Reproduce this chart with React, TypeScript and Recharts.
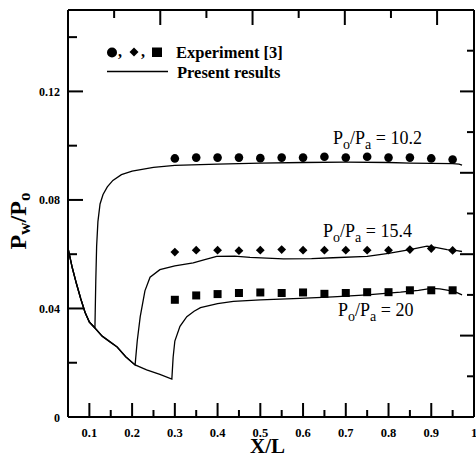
import React from 'react';
import { ComposedChart, Line, Scatter, XAxis, YAxis } from 'recharts';

// experiment [3] stations
const expX = [0.3, 0.35, 0.4, 0.45, 0.5, 0.55, 0.6, 0.65, 0.7, 0.75, 0.8, 0.85, 0.9, 0.95];
const exp102 = [0.0953, 0.0956, 0.0956, 0.0956, 0.0954, 0.0956, 0.0956, 0.0959, 0.0956, 0.0959, 0.0956, 0.0956, 0.0953, 0.0949];
const exp154 = [0.0608, 0.0615, 0.0615, 0.0613, 0.0615, 0.0617, 0.0615, 0.0615, 0.0615, 0.0615, 0.0615, 0.0617, 0.0621, 0.0614];
const exp20 = [0.0432, 0.0448, 0.0453, 0.0457, 0.0459, 0.0457, 0.0459, 0.0454, 0.0457, 0.046, 0.046, 0.0467, 0.0467, 0.0467];

// present results (computed wall pressure)
const simX102 = [0.05, 0.06, 0.07, 0.08, 0.09, 0.1, 0.113, 0.115, 0.117, 0.12, 0.125, 0.132, 0.142, 0.155, 0.175, 0.2, 0.25, 0.3, 0.4, 0.5, 0.6, 0.7, 0.8, 0.85, 0.9, 0.95, 0.965, 0.972];
const simY102 = [0.0622, 0.055, 0.049, 0.0435, 0.0385, 0.035, 0.0328, 0.05, 0.063, 0.072, 0.0785, 0.082, 0.0848, 0.0872, 0.0893, 0.0906, 0.092, 0.0927, 0.0932, 0.0936, 0.0938, 0.0939, 0.0938, 0.0936, 0.0935, 0.0934, 0.0932, 0.0928];

const simX154 = [0.05, 0.06, 0.07, 0.08, 0.09, 0.1, 0.113, 0.13, 0.15, 0.165, 0.185, 0.207, 0.212, 0.219, 0.23, 0.242, 0.265, 0.3, 0.343, 0.37, 0.398, 0.44, 0.476, 0.554, 0.62, 0.67, 0.75, 0.8, 0.85, 0.89, 0.91, 0.937, 0.96, 0.972];
const simY154 = [0.0622, 0.055, 0.049, 0.0435, 0.0385, 0.035, 0.0328, 0.0298, 0.0275, 0.0258, 0.0222, 0.0192, 0.028, 0.037, 0.0465, 0.0515, 0.0543, 0.0557, 0.0568, 0.058, 0.0592, 0.0593, 0.0588, 0.0583, 0.0584, 0.0587, 0.0592, 0.0603, 0.0617, 0.063, 0.0625, 0.0617, 0.0613, 0.061];

const simX20 = [0.05, 0.06, 0.07, 0.08, 0.09, 0.1, 0.113, 0.13, 0.15, 0.165, 0.185, 0.207, 0.234, 0.265, 0.293, 0.296, 0.3, 0.312, 0.328, 0.345, 0.36, 0.4, 0.437, 0.5, 0.593, 0.67, 0.75, 0.828, 0.87, 0.9, 0.92, 0.937, 0.955, 0.972];
const simY20 = [0.0622, 0.055, 0.049, 0.0435, 0.0385, 0.035, 0.0328, 0.0298, 0.0275, 0.0258, 0.0222, 0.0192, 0.0174, 0.0157, 0.014, 0.022, 0.028, 0.0334, 0.037, 0.039, 0.0403, 0.0418, 0.0426, 0.0432, 0.0437, 0.0443, 0.045, 0.046, 0.0467, 0.0474, 0.0472, 0.0468, 0.0462, 0.045];

const xTicks = [0.1, 0.15, 0.2, 0.25, 0.3, 0.35, 0.4, 0.45, 0.5, 0.55, 0.6, 0.65, 0.7, 0.75, 0.8, 0.85, 0.9, 0.95, 1];
const yTicks = [0, 0.02, 0.04, 0.06, 0.08, 0.1, 0.12, 0.14];
const topTicks = [1, 2, 3, 4, 5, 6, 7, 8];
const rightTicks = [1, 2, 3, 4, 5, 6, 7, 8, 9];
const topDomain = [0, 8.8];
const rightDomain = [0, 10];

const pts = (xs: number[], ys: number[]) => xs.map((x, i) => ({ x, y: ys[i] }));
// invisible helper so that the frame axes (top/right) have a series
const frameData = [{ x: topDomain[0], y: rightDomain[0] }, { x: topDomain[1], y: rightDomain[1] }];

const FONT = '"Liberation Serif", serif';

const BottomTick = (props: any) => {
  const { x, y, payload } = props;
  const v = payload.value;
  const major = Math.abs(v * 10 - Math.round(v * 10)) < 1e-6;
  return (
    <g>
      <line x1={x} x2={x} y1={y} y2={y - (major ? 14 : 7)} stroke="#000" strokeWidth={2} />
      {major && (
        <text x={x} y={y + 20} textAnchor="middle" fontFamily={FONT} fontWeight="bold" fontSize={12.5} fill="#000">
          {v === 1 ? '1' : v.toFixed(1)}
        </text>
      )}
    </g>
  );
};

const LeftTick = (props: any) => {
  const { x, y, payload } = props;
  const v = payload.value;
  const major = Math.abs(v * 25 - Math.round(v * 25)) < 1e-6;
  return (
    <g>
      <line x1={x} x2={x + (major ? 15 : 9)} y1={y} y2={y} stroke="#000" strokeWidth={2} />
      {major && (
        <text x={x - 8} y={y + 4.5} textAnchor="end" fontFamily={FONT} fontWeight="bold" fontSize={12} fill="#000">
          {v === 0 ? '0' : v.toFixed(2)}
        </text>
      )}
    </g>
  );
};

const TopTick = (props: any) => {
  const { x, y, payload } = props;
  const major = payload.value % 2 === 0;
  return <line x1={x} x2={x} y1={y} y2={y + (major ? 15 : 8)} stroke="#000" strokeWidth={2} />;
};

const RightTick = (props: any) => {
  const { x, y, payload } = props;
  const major = payload.value % 2 === 0;
  return <line x1={x} x2={x - (major ? 14 : 7)} y1={y} y2={y} stroke="#000" strokeWidth={2} />;
};

const Dot = (p: any) => <circle cx={p.cx} cy={p.cy} r={4.3} fill="#000" />;
const Diamond = (p: any) => (
  <polygon
    points={`${p.cx},${p.cy - 4.4} ${p.cx + 4.4},${p.cy} ${p.cx},${p.cy + 4.4} ${p.cx - 4.4},${p.cy}`}
    fill="#000"
  />
);
const Square = (p: any) => <rect x={p.cx - 4} y={p.cy - 4} width={8} height={8} fill="#000" />;

const Ratio = ({ x, y, value }: { x: number; y: number; value: string }) => (
  <text x={x} y={y} fontFamily={FONT} fontSize={18} fill="#000">
    P<tspan fontSize={14} dy={5}>o</tspan>
    <tspan dy={-5}>/P</tspan>
    <tspan fontSize={14} dy={5}>a</tspan>
    <tspan dy={-5}>{` = ${value}`}</tspan>
  </text>
);

const Annotations = () => (
  <g>
    {/* legend */}
    <circle cx={112} cy={52.5} r={5} fill="#000" />
    <text x={118} y={57} fontFamily={FONT} fontWeight="bold" fontSize={16}>,</text>
    <polygon points="134,47.5 138.5,52 134,56.5 129.5,52" fill="#000" />
    <text x={141} y={57} fontFamily={FONT} fontWeight="bold" fontSize={16}>,</text>
    <rect x={152} y={47.5} width={10} height={9.5} fill="#000" />
    <text x={176} y={57.5} fontFamily={FONT} fontWeight="bold" fontSize={16.5}>Experiment [3]</text>
    <line x1={107} x2={168} y1={71.5} y2={71.5} stroke="#000" strokeWidth={1.5} />
    <text x={177} y={78} fontFamily={FONT} fontWeight="bold" fontSize={16.5}>Present results</text>

    <Ratio x={333} y={144} value="10.2" />
    <Ratio x={323} y={237} value="15.4" />
    <Ratio x={338} y={316} value="20" />

    {/* axis titles */}
    <text x={267.5} y={453} textAnchor="middle" fontFamily={FONT} fontWeight="bold" fontSize={21}>X/L</text>
    <text transform="translate(26,221) rotate(-90)" textAnchor="middle" fontFamily={FONT} fontWeight="bold" fontSize={24}>
      P<tspan fontSize={17} dy={3.5}>w</tspan>
      <tspan dy={-3.5}>/P</tspan>
      <tspan fontSize={17} dy={3.5}>o</tspan>
    </text>
  </g>
);

export default function App() {
  return (
    <div style={{ position: 'absolute', left: 0, top: 0, width: 476, height: 459 }}>
      <ComposedChart width={476} height={459} margin={{ top: 9, right: 1, left: 0, bottom: 0 }}>
        <XAxis
          xAxisId="b"
          type="number"
          dataKey="x"
          domain={[0.05, 1]}
          ticks={xTicks}
          allowDataOverflow
          height={42}
          tickSize={0}
          tickMargin={0}
          tickLine={false}
          axisLine={{ stroke: '#000', strokeWidth: 2 }}
          tick={<BottomTick />}
          interval={0}
        />
        <XAxis
          xAxisId="t"
          orientation="top"
          type="number"
          dataKey="x"
          domain={topDomain}
          ticks={topTicks}
          allowDataOverflow
          height={1}
          tickSize={0}
          tickMargin={0}
          tickLine={false}
          axisLine={{ stroke: '#000', strokeWidth: 2 }}
          tick={<TopTick />}
          interval={0}
        />
        <YAxis
          yAxisId="l"
          type="number"
          dataKey="y"
          domain={[0, 0.15]}
          ticks={yTicks}
          allowDataOverflow
          width={68}
          tickSize={0}
          tickMargin={0}
          tickLine={false}
          axisLine={{ stroke: '#000', strokeWidth: 2 }}
          tick={<LeftTick />}
          interval={0}
        />
        <YAxis
          yAxisId="r"
          orientation="right"
          type="number"
          dataKey="y"
          domain={rightDomain}
          ticks={rightTicks}
          allowDataOverflow
          width={1}
          tickSize={0}
          tickMargin={0}
          tickLine={false}
          axisLine={{ stroke: '#000', strokeWidth: 2 }}
          tick={<RightTick />}
          interval={0}
        />

        <Line xAxisId="t" yAxisId="r" data={frameData} dataKey="y" stroke="none" dot={false} isAnimationActive={false} />

        <Line xAxisId="b" yAxisId="l" data={pts(simX102, simY102)} dataKey="y" type="linear" stroke="#000" strokeWidth={1.3} dot={false} isAnimationActive={false} />
        <Line xAxisId="b" yAxisId="l" data={pts(simX154, simY154)} dataKey="y" type="linear" stroke="#000" strokeWidth={1.3} dot={false} isAnimationActive={false} />
        <Line xAxisId="b" yAxisId="l" data={pts(simX20, simY20)} dataKey="y" type="linear" stroke="#000" strokeWidth={1.3} dot={false} isAnimationActive={false} />

        <Scatter xAxisId="b" yAxisId="l" data={pts(expX, exp102)} dataKey="y" shape={Dot} isAnimationActive={false} />
        <Scatter xAxisId="b" yAxisId="l" data={pts(expX, exp154)} dataKey="y" shape={Diamond} isAnimationActive={false} />
        <Scatter xAxisId="b" yAxisId="l" data={pts(expX, exp20)} dataKey="y" shape={Square} isAnimationActive={false} />

        <Annotations />
      </ComposedChart>
    </div>
  );
}
